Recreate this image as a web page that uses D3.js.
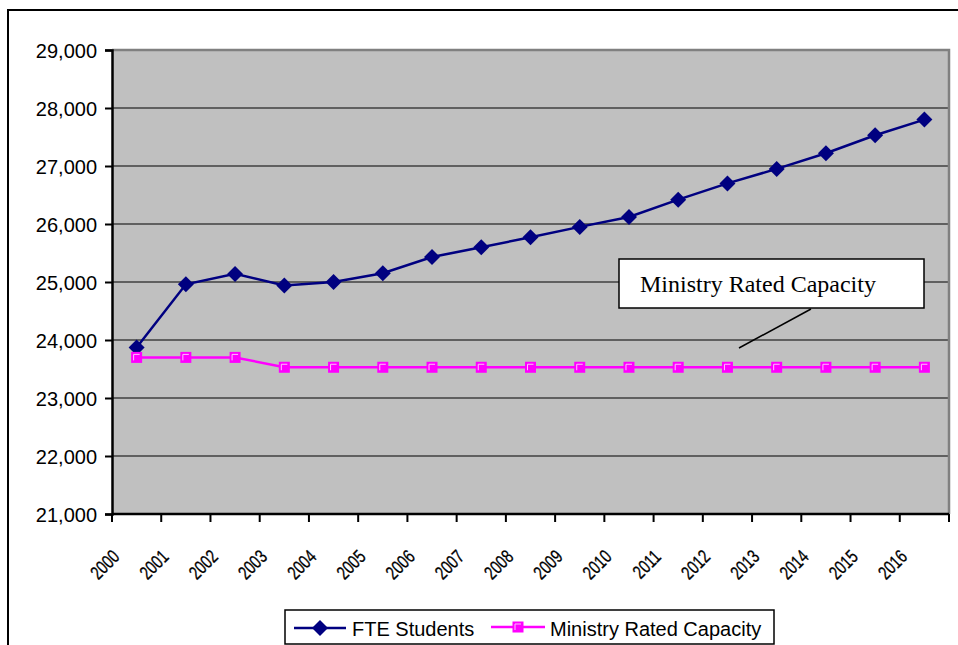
<!DOCTYPE html>
<html>
<head>
<meta charset="utf-8">
<script src="https://cdn.jsdelivr.net/npm/d3@7"></script>
<style>
  body { margin: 0; background: #fff; }
  svg { display: block; }
</style>
</head>
<body>
<svg id="chart" width="958" height="645"></svg>
<script>
// chart data
const years = ["2000","2001","2002","2003","2004","2005","2006","2007","2008",
               "2009","2010","2011","2012","2013","2014","2015","2016"];
const fteStudents = [23870, 24960, 25140, 24940, 25000, 25150, 25430, 25600, 25770,
                     25950, 26120, 26420, 26700, 26950, 27220, 27530, 27800];
const ratedCapacity = [23700, 23700, 23700, 23530, 23530, 23530, 23530, 23530, 23530,
                       23530, 23530, 23530, 23530, 23530, 23530, 23530, 23530];
const yTicks = [21000, 22000, 23000, 24000, 25000, 26000, 27000, 28000, 29000];
const seriesNames = ["FTE Students", "Ministry Rated Capacity"];

const svg = d3.select('#chart');
const plot = {left: 112, right: 949, top: 50, bottom: 514};
const navy = '#000080', magenta = '#FF00FF';
const sans = 'Arial, "Liberation Sans", sans-serif';

// outer chart frame
svg.append('rect')
  .attr('x', 8).attr('y', 10)
  .attr('width', 990).attr('height', 700)
  .attr('fill', 'none').attr('stroke', '#000').attr('stroke-width', 2);

let x = d3.scaleBand()
  .domain(years)
  .range([plot.left, plot.right]);

let y = d3.scaleLinear()
  .domain([21000, 29000])
  .range([plot.bottom, plot.top]);

// plot area
svg.append('rect')
  .attr('x', plot.left).attr('y', plot.top)
  .attr('width', plot.right - plot.left).attr('height', plot.bottom - plot.top)
  .attr('fill', '#C0C0C0');

// gridlines
svg.append('g')
  .selectAll('line')
  .data(yTicks.slice(1, -1))
  .enter().append('line')
  .attr('x1', plot.left).attr('x2', plot.right)
  .attr('y1', d => y(d)).attr('y2', d => y(d))
  .attr('stroke', '#000').attr('stroke-width', 1.2);

// gray border top/right
svg.append('path')
  .attr('d', `M${plot.left},${plot.top}H${plot.right}V${plot.bottom}`)
  .attr('fill', 'none').attr('stroke', '#808080').attr('stroke-width', 2.5);

// y axis
let yAxis = d3.axisLeft(y)
  .tickValues(yTicks)
  .tickSize(7)
  .tickFormat(d3.format(','));
let gy = svg.append('g')
  .attr('transform', `translate(${plot.left},0)`)
  .call(yAxis);
gy.select('.domain').attr('stroke-width', 2.5);
gy.selectAll('.tick line').attr('stroke-width', 2);
gy.selectAll('.tick text')
  .attr('x', -15)
  .attr('dy', '0.36em')
  .style('font-family', sans)
  .style('font-size', '20px')
  .attr('fill', '#000');

// x axis: ticks at band edges
let gx = svg.append('g');
gx.append('line')
  .attr('x1', plot.left).attr('x2', plot.right)
  .attr('y1', plot.bottom).attr('y2', plot.bottom)
  .attr('stroke', '#000').attr('stroke-width', 2.5);
gx.selectAll('line.tk')
  .data(years.concat(['end']))
  .enter().append('line')
  .attr('class', 'tk')
  .attr('x1', d => d === 'end' ? plot.right : x(d))
  .attr('x2', d => d === 'end' ? plot.right : x(d))
  .attr('y1', plot.bottom).attr('y2', plot.bottom + 8)
  .attr('stroke', '#000').attr('stroke-width', 2);
// squeezed, rotated year labels
gx.selectAll('text')
  .data(years)
  .enter().append('text')
  .attr('transform', d => `translate(${x(d) + x.bandwidth() / 2 - 16},${plot.bottom + 44}) rotate(-45) scale(0.75,1)`)
  .attr('text-anchor', 'end')
  .style('font-family', sans)
  .style('font-size', '19px')
  .attr('stroke', '#000').attr('stroke-width', 0.3)
  .text(d => d);

const cx = d => x(d) + x.bandwidth() / 2;

let line = d3.line()
  .x((d, i) => cx(years[i]))
  .y(d => y(d));

// FTE series
svg.append('path')
  .datum(fteStudents)
  .attr('d', line)
  .attr('fill', 'none').attr('stroke', navy).attr('stroke-width', 2.5);

const diamond = 'M0,-8L8,0L0,8L-8,0Z';
svg.append('g')
  .selectAll('path')
  .data(fteStudents)
  .enter().append('path')
  .attr('d', diamond)
  .attr('transform', (d, i) => `translate(${cx(years[i])},${y(d)})`)
  .attr('fill', navy);

// capacity series
svg.append('path')
  .datum(ratedCapacity)
  .attr('d', line)
  .attr('fill', 'none').attr('stroke', magenta).attr('stroke-width', 2.5);

function squareMarker(g) {
  g.append('rect')
    .attr('x', -5.5).attr('y', -5.5).attr('width', 11).attr('height', 11)
    .attr('fill', magenta);
  g.append('path')
    .attr('d', 'M-3,3V-3H3')
    .attr('fill', 'none').attr('stroke', '#FFC0FF').attr('stroke-width', 1);
}
svg.append('g')
  .selectAll('g')
  .data(ratedCapacity)
  .enter().append('g')
  .attr('transform', (d, i) => `translate(${cx(years[i])},${y(d)})`)
  .each(function() { squareMarker(d3.select(this)); });

// callout
svg.append('line')
  .attr('x1', 811).attr('y1', 309).attr('x2', 739).attr('y2', 348)
  .attr('stroke', '#000').attr('stroke-width', 1.5);
svg.append('rect')
  .attr('x', 619).attr('y', 259).attr('width', 305).attr('height', 49)
  .attr('fill', '#fff').attr('stroke', '#000').attr('stroke-width', 1.5);
svg.append('text')
  .attr('x', 640).attr('y', 292)
  .style('font-family', '"Liberation Serif", "Times New Roman", serif')
  .style('font-size', '24px')
  .text('Ministry Rated Capacity');

// legend
let leg = svg.append('g');
leg.append('rect')
  .attr('x', 285).attr('y', 610).attr('width', 489).attr('height', 34)
  .attr('fill', '#fff').attr('stroke', '#000').attr('stroke-width', 1.5);
leg.append('line')
  .attr('x1', 294).attr('x2', 346).attr('y1', 628).attr('y2', 628)
  .attr('stroke', navy).attr('stroke-width', 2.5);
leg.append('path')
  .attr('d', diamond)
  .attr('transform', 'translate(320,628)')
  .attr('fill', navy);
leg.append('text')
  .attr('x', 352).attr('y', 636)
  .style('font-family', sans)
  .style('font-size', '20px')
  .text(seriesNames[0]);
leg.append('line')
  .attr('x1', 491).attr('x2', 545).attr('y1', 627).attr('y2', 627)
  .attr('stroke', magenta).attr('stroke-width', 2.5);
leg.append('g')
  .attr('transform', 'translate(518,627)')
  .call(squareMarker);
leg.append('text')
  .attr('x', 550).attr('y', 636)
  .style('font-family', sans)
  .style('font-size', '20px')
  .text(seriesNames[1]);
</script>
</body>
</html>
